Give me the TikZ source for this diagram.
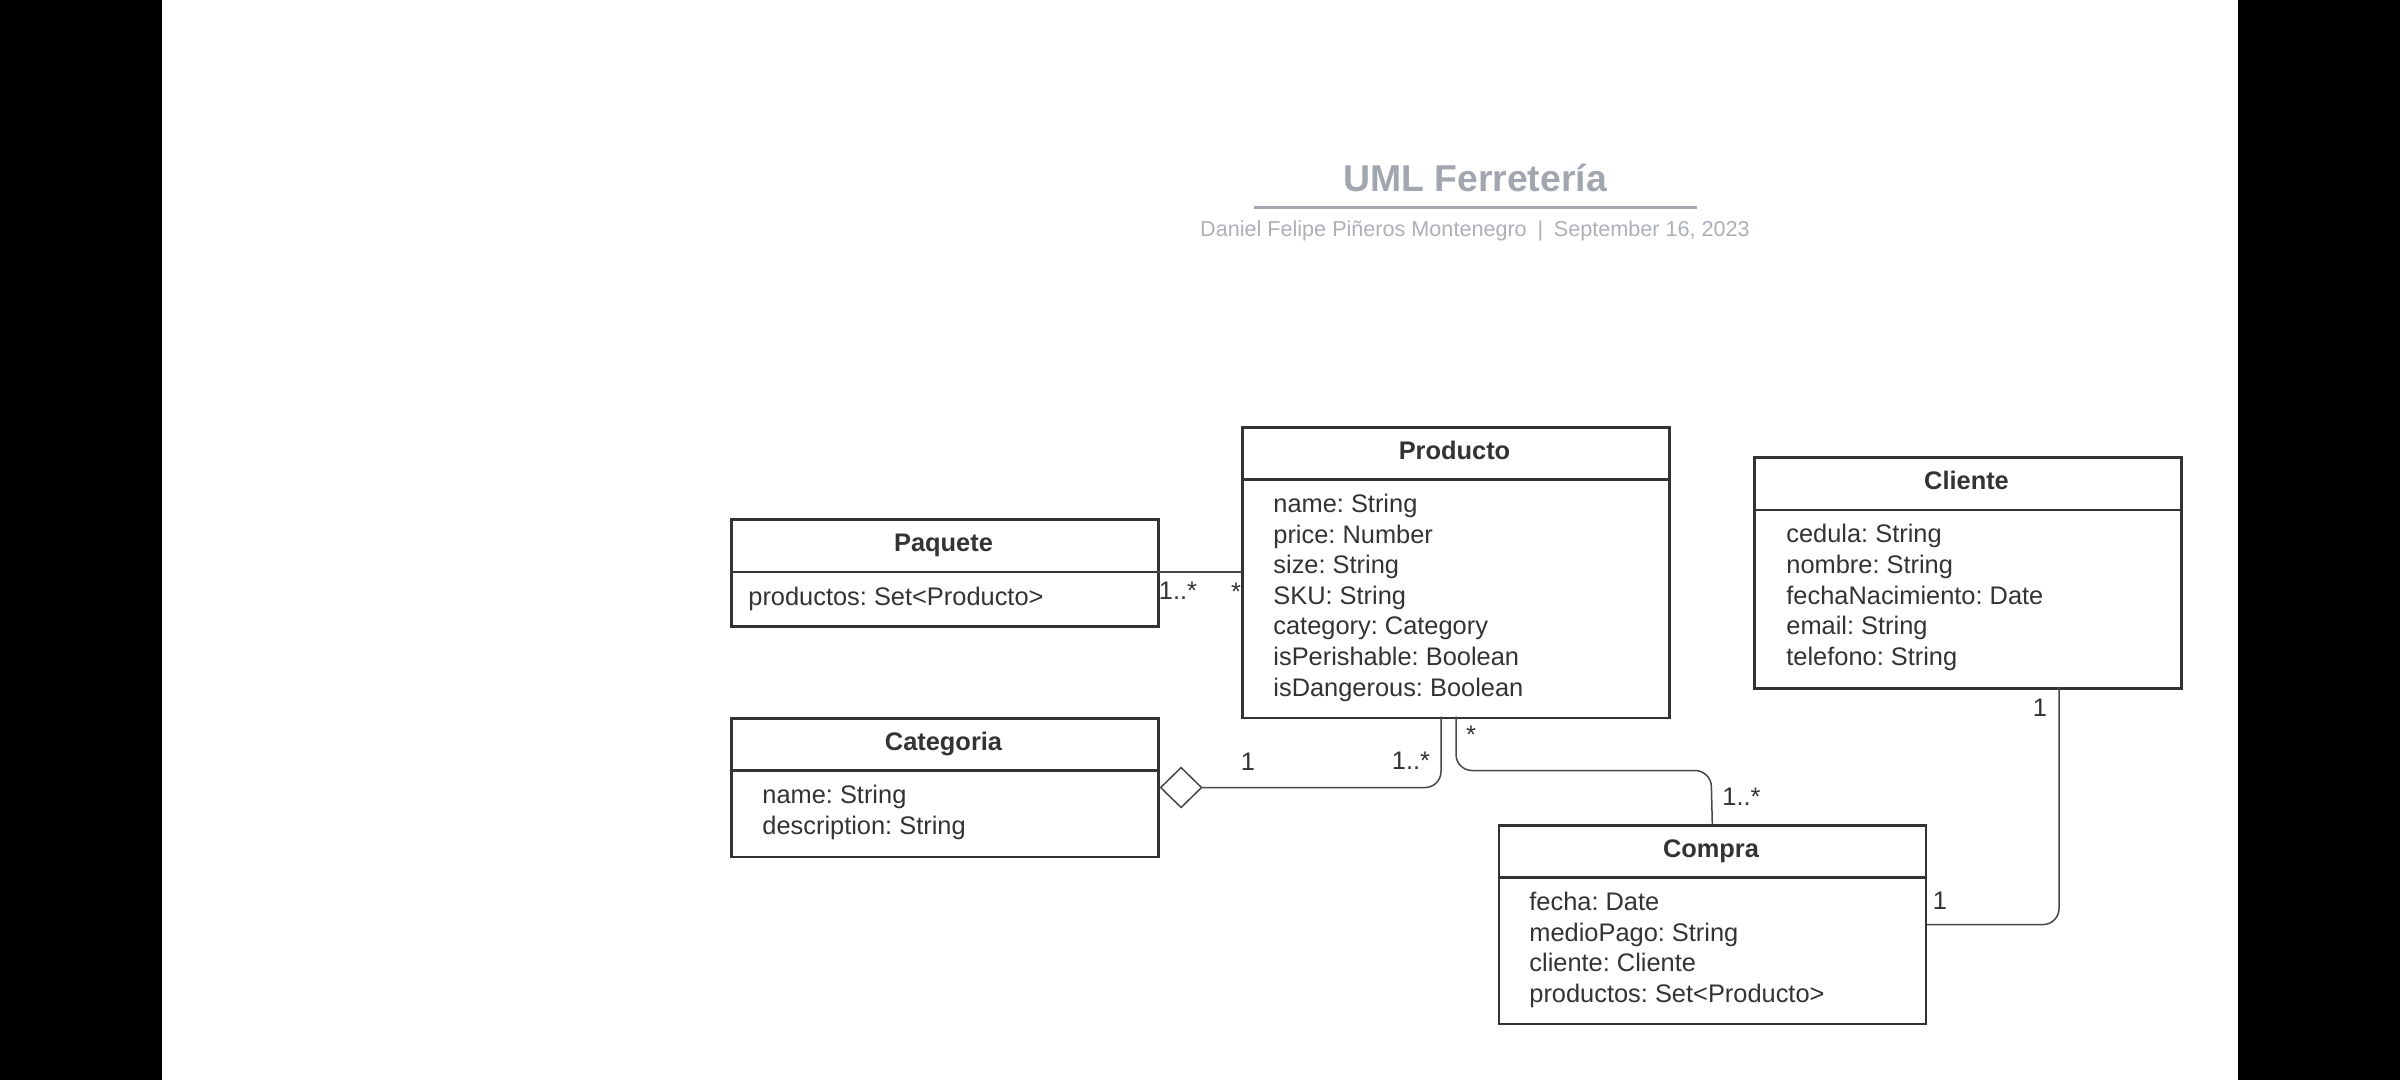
\documentclass[tikz,border=0pt]{standalone}
\usepackage{fontspec}
\setmainfont{Liberation Sans}
\usetikzlibrary{arrows.meta}
\definecolor{ink}{HTML}{333333}
\definecolor{conn}{HTML}{474747}
\definecolor{ttl}{HTML}{A2A7AF}
\definecolor{subc}{HTML}{ACB0B7}
\begin{document}
\frenchspacing
\begin{tikzpicture}[x=0.5pt,y=-0.5pt,
  cls/.style={draw=ink, line width=1.3pt, minimum width=213.5pt, inner sep=0pt, anchor=north west},
  sepline/.style={draw=ink, line width=1.3pt},
  hdr/.style={font=\bfseries\fontsize{12.7}{15.3}\selectfont, text=ink, anchor=base, inner sep=0pt},
  attr/.style={font=\fontsize{12.7}{15.3}\selectfont, text=ink, anchor=base west, inner sep=0pt},
  mult/.style={font=\fontsize{12.7}{15.3}\selectfont, text=ink, anchor=base, inner sep=0pt},
  assoc/.style={draw=conn, line width=0.75pt, rounded corners=8pt}]
\useasboundingbox (0,0) rectangle (2400,1080);
\fill[white] (0,0) rectangle (2400,1080);
\fill[black] (0,0) rectangle (162,1080);
\fill[black] (2238,0) rectangle (2400,1080);

% title
\node[font=\bfseries\fontsize{18.7}{22}\selectfont, text=ttl, anchor=base, inner sep=0pt] (title) at (1475,192) {UML Ferretería};
\coordinate (ulA) at (1254,207.5);
\coordinate (ulB) at (1697,207.5);
\draw[ttl, line width=1.5pt] (ulA) -- (ulB);
\node[font=\fontsize{10.8}{13}\selectfont, text=subc, anchor=base, inner sep=0pt] (subtitle) at (1475,237) {Daniel Felipe Piñeros Montenegro\hspace{0.5em}|\hspace{0.5em}September 16, 2023};

% Paquete
\node[cls, minimum height=53.25pt] (paq) at (730,518.5) {};
\draw[sepline] ([yshift=-26.75pt]paq.north west) -- ([yshift=-26.75pt]paq.north east);
\node[hdr] (paqh) at (943.5,552) {Paquete};
\node[attr] (paqa) at (748,605) {productos: Set<Producto>};

% Producto
\node[cls, minimum height=145.25pt] (prod) at (1241,426) {};
\draw[sepline] ([yshift=-26.75pt]prod.north west) -- ([yshift=-26.75pt]prod.north east);
\node[hdr] (prodh) at (1454.5,459.5) {Producto};
\foreach \t [count=\i from 0] in {name: String, price: Number, size: String, SKU: String, category: Category, isPerishable: Boolean, isDangerous: Boolean}
  \node[attr] (proda\i) at (1273,512.5+30.6*\i) {\t};

% Categoria
\node[cls, minimum height=69.25pt] (cat) at (730,717) {};
\draw[sepline] ([yshift=-26.75pt]cat.north west) -- ([yshift=-26.75pt]cat.north east);
\node[hdr] (cath) at (943.5,750.5) {Categoria};
\foreach \t [count=\i from 0] in {name: String, description: String}
  \node[attr] (cata\i) at (762,803.5+30.6*\i) {\t};

% Cliente
\node[cls, minimum height=115.25pt] (cli) at (1753,456.5) {};
\draw[sepline] ([yshift=-26.75pt]cli.north west) -- ([yshift=-26.75pt]cli.north east);
\node[hdr] (clih) at (1966.5,490) {Cliente};
\foreach \t [count=\i from 0] in {cedula: String, nombre: String, fechaNacimiento: Date, email: String, telefono: String}
  \node[attr] (clia\i) at (1786,543+30.6*\i) {\t};

% Compra
\node[cls, minimum height=99.25pt] (comp) at (1497.5,824) {};
\draw[sepline] ([yshift=-26.75pt]comp.north west) -- ([yshift=-26.75pt]comp.north east);
\node[hdr] (comph) at (1711,857.5) {Compra};
\foreach \t [count=\i from 0] in {fecha: Date, medioPago: String, cliente: Cliente, productos: Set<Producto>}
  \node[attr] (compa\i) at (1529,910.5+30.6*\i) {\t};

% connectors
\coordinate (paqsep) at (1157,572);
\draw[draw=conn, line width=0.6pt] (paqsep) -- (paqsep -| prod.west);
\node[mult] (m1) at (1178,599) {1..*};
\node[mult] (m2) at (1236,601) {*};

\coordinate (prodc) at (1441,716.5);
\draw[assoc, {Diamond[open, length=21.5pt, width=21pt]}-] (cat.east) -| (prodc);
\node[mult] (m3) at (1248,770) {1};
\node[mult] (m4) at (1411,769) {1..*};

\coordinate (prodd) at (1456,716.5);
\coordinate (pcmid) at (1711,770.5);
\draw[assoc] (prodd) |- (pcmid) -- (comp.north);
\node[mult] (m5) at (1471,743) {*};
\node[mult] (m6) at (1741.5,805) {1..*};

\coordinate (clib) at (2059,687);
\draw[assoc] (comp.east) -| (clib);
\node[mult] (m7) at (2040,716) {1};
\node[mult] (m8) at (1940,909) {1};
\end{tikzpicture}
\end{document}
